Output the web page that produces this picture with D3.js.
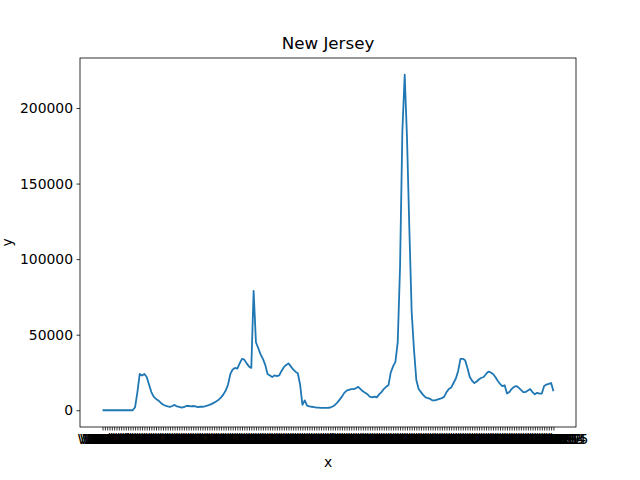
<!DOCTYPE html>
<html>
<head>
<meta charset="utf-8">
<script src="https://cdn.jsdelivr.net/npm/d3@7"></script>
<style>
  body { margin: 0; background: #fff; }
  text { font-family: "DejaVu Sans", sans-serif; }
</style>
</head>
<body>
<div id="chart"></div>
<script>
const width = 640;
const height = 480;
const title = "New Jersey";

// weekly values
const cases = [
  0, 0, 0, 0, 0, 0, 0, 0, 0, 0, 0, 0, 0, 0,
  2000, 12000, 24000, 23000, 24000, 22000, 17000, 12000, 9000, 7500, 6500,
  5000, 3800, 3000, 2500, 2200, 2800, 3500, 2500, 2200, 1800, 2000, 2800, 2800, 2500, 2800,
  2500, 2000, 2300, 2300, 2600, 3000, 3500, 4200, 5000, 6000, 7000, 8500, 10500, 13000, 17000,
  24000, 27000, 28000, 27500, 31000, 34000, 33500, 31000, 29000, 28000, 79000, 45000, 41000, 37000, 34000,
  30000, 24000, 23000, 22000, 23000, 22500, 23000, 26000, 28500, 30000, 31000, 29000, 27000, 25500, 24500,
  17000, 3500, 6500, 3000, 2500, 2300, 2000, 1800, 1700, 1600, 1600, 1500, 1500,
  1800, 2500, 3500, 5000, 7000, 9000, 11500, 13000, 13500, 14000, 14000, 14500, 15500, 14000, 12500,
  11500, 10500, 9000, 8500, 9000, 8500, 10500, 12000, 14000, 15500, 16500, 25000, 29000, 32000, 45000,
  95000, 185000, 222000, 180000, 120000, 65000, 40000, 20000, 14000, 12000, 10000,
  8500, 8000, 7500, 6500, 6500, 7000, 7500, 8000, 9000, 12000, 14000, 15000, 18000, 21000, 26000,
  34000, 34000, 33000, 28000, 22000, 19500, 18000, 19000, 20500, 21500, 22000, 24000, 25500, 25000, 24000,
  22000, 19500, 17500, 16000, 16500, 11000, 12000, 14000, 15500, 16000, 15000, 13500, 12000, 12000, 13000,
  14000, 12000, 10500, 11500, 11000, 11000, 16000, 17000, 17500, 18000, 12500
];
const weeks = cases.map((d, i) => `Week ${i + 1}`);
const yTicks = [0, 50000, 100000, 150000, 200000];

const margin = { left: 80, right: 64, top: 58, bottom: 53 };
const iw = width - margin.left - margin.right;
const ih = height - margin.top - margin.bottom;

const svg = d3.select("#chart").append("svg")
  .attr("width", width)
  .attr("height", height);

const g = svg.append("g").attr("transform", `translate(${margin.left},${margin.top})`);

// matplotlib-like 5% margins
const n = cases.length - 1;
const xScale = d3.scaleLinear().domain([-0.05 * n, n * 1.05]).range([0, iw]);
const yMax = d3.max(cases);
const yScale = d3.scaleLinear().domain([-0.05 * yMax, yMax * 1.05]).range([ih, 0]);

const xAxis = g.append("g")
  .attr("transform", `translate(0,${ih})`)
  .call(d3.axisBottom(xScale)
    .tickValues(d3.range(cases.length))
    .tickFormat(i => weeks[i])
    .tickSize(3.5).tickPadding(3.5));
xAxis.selectAll("text").attr("font-size", 13.9).attr("fill", "#000");

const yAxis = g.append("g")
  .call(d3.axisLeft(yScale).tickValues(yTicks).tickFormat(d3.format("d"))
    .tickSize(3.5).tickPadding(3.5));
yAxis.selectAll("text").attr("font-size", 13.9).attr("fill", "#000");

[xAxis, yAxis].forEach(a => {
  a.select(".domain").remove();
  a.selectAll("line").attr("stroke", "#000").attr("stroke-width", 0.8);
});

g.append("rect")
  .attr("width", iw).attr("height", ih)
  .attr("fill", "none").attr("stroke", "#000").attr("stroke-width", 0.8);

g.append("path")
  .datum(cases)
  .attr("fill", "none")
  .attr("stroke", "#1f77b4")
  .attr("stroke-width", 1.8)
  .attr("stroke-linejoin", "round")
  .attr("d", d3.line().x((d, i) => xScale(i)).y(d => yScale(d)));

svg.append("text")
  .attr("x", margin.left + iw / 2).attr("y", 49)
  .attr("text-anchor", "middle").attr("font-size", 16.7)
  .text(title);

svg.append("text")
  .attr("x", margin.left + iw / 2).attr("y", 467)
  .attr("text-anchor", "middle").attr("font-size", 13.9)
  .text("x");

svg.append("text")
  .attr("transform", `translate(12,${margin.top + ih / 2}) rotate(-90)`)
  .attr("text-anchor", "middle").attr("font-size", 13.9)
  .text("y");
</script>
</body>
</html>
